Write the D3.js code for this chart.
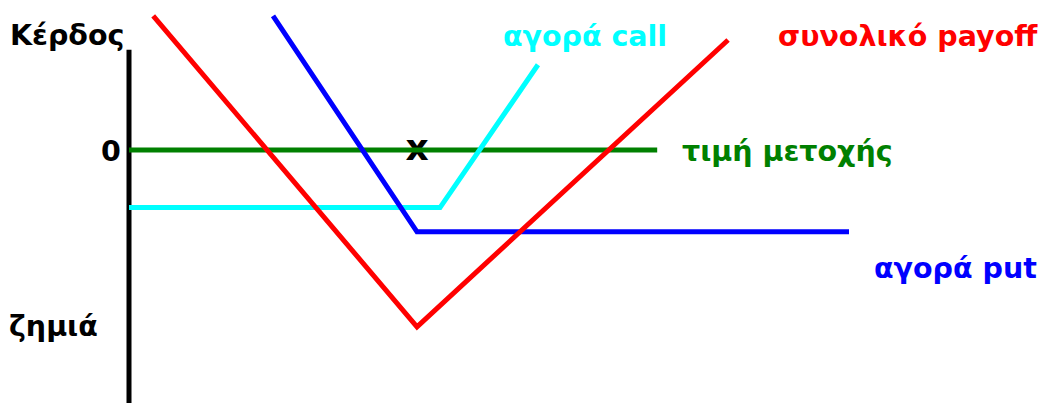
<!DOCTYPE html>
<html>
<head>
<meta charset="utf-8">
<script src="https://cdn.jsdelivr.net/npm/d3@7"></script>
<style>
  body { margin: 0; background: #fff; }
  text { font-family: "DejaVu Sans", Verdana, sans-serif; font-weight: bold; }
</style>
</head>
<body>
<div id="plot"></div>
<script>
// payoff lines: price (x) vs profit (y)
const callPrice = [0, 54, 71];
const callProfit = [-10, -10, 14.8];
const putPrice = [25, 50, 125];
const putProfit = [23.3, -14.2, -14.2];
const totalPrice = [4.2, 50, 104];
const totalProfit = [23.3, -30.7, 19.1];
const stockPrice = [0, 91.7];
const stockProfit = [0, 0];
const strike = 50;

window.addEventListener("load", main)

function main(){
  const width = 1041, height = 403;
  let svg = d3.select("#plot").append("svg")
    .attr("width", width)
    .attr("height", height);

  // 5.76 px per unit both ways, origin at the axis / zero line
  let x = d3.scaleLinear().domain([0, 100]).range([129, 705]);
  let y = d3.scaleLinear().domain([0, 10]).range([150, 92.4]);

  let line = d3.line()
    .x(d => x(d[0]))
    .y(d => y(d[1]));

  // vertical axis
  svg.append("line")
    .attr("x1", x(0)).attr("x2", x(0))
    .attr("y1", y(17.4)).attr("y2", height)
    .attr("stroke", "#000").attr("stroke-width", 5);

  // strike marker, sits under the green line
  svg.append("text")
    .attr("x", x(strike)).attr("y", y(-1.8))
    .attr("text-anchor", "middle")
    .style("font-size", "36px")
    .text("x");

  const series = [
    { px: stockPrice, py: stockProfit, color: "#008000" },
    { px: callPrice, py: callProfit, color: "#00ffff" },
    { px: putPrice, py: putProfit, color: "#0000ff" },
    { px: totalPrice, py: totalProfit, color: "#ff0000" }
  ];

  svg.append("g").selectAll("path")
    .data(series)
    .join("path")
      .attr("d", s => line(s.px.map((p, i) => [p, s.py[i]])))
      .attr("fill", "none")
      .attr("stroke", s => s.color)
      .attr("stroke-width", 5)
      .attr("stroke-linejoin", "miter");

  // labels
  const labels = [
    { t: "Κέρδος", x: 10, y: 45, c: "#000" },
    { t: "0", x: 101, y: 161, c: "#000" },
    { t: "ζημιά", x: 9, y: 336, c: "#000" },
    { t: "αγορά call", x: 503, y: 46, c: "#00ffff" },
    { t: "συνολικό payoff", x: 778, y: 46, c: "#ff0000" },
    { t: "τιμή μετοχής", x: 682, y: 161, c: "#008000" },
    { t: "αγορά put", x: 874, y: 278, c: "#0000ff" }
  ];
  svg.append("g").selectAll("text")
    .data(labels)
    .join("text")
      .attr("x", d => d.x)
      .attr("y", d => d.y)
      .attr("fill", d => d.c)
      .style("font-size", "28.5px")
      .text(d => d.t);
}
</script>
</body>
</html>
